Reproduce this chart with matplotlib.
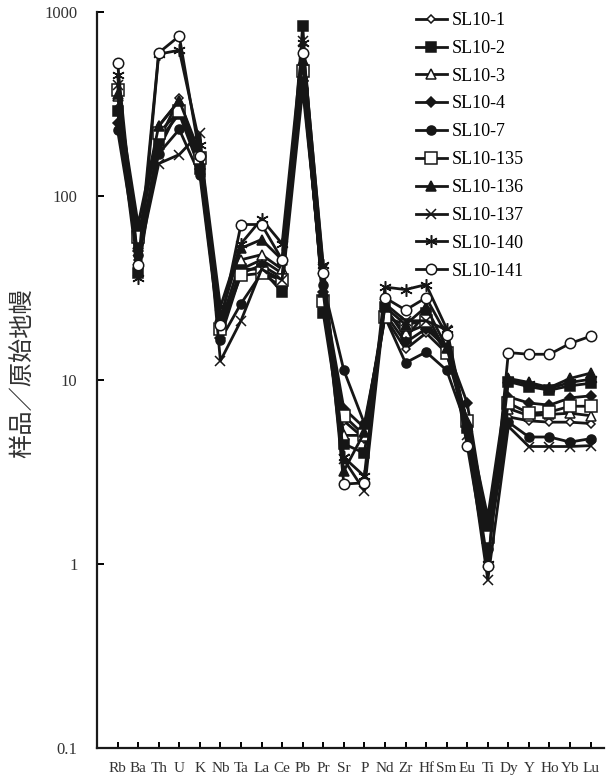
import matplotlib
matplotlib.use("Agg")
import matplotlib.pyplot as plt
import numpy as np

plt.rcParams["font.family"] = ["Liberation Serif", "DejaVu Serif"]

# primitive-mantle normalised spider diagram
elements = ["Rb", "Ba", "Th", "U", "K", "Nb", "Ta", "La", "Ce", "Pb", "Pr", "Sr",
            "P", "Nd", "Zr", "Hf", "Sm", "Eu", "Ti", "Dy", "Y", "Ho", "Yb", "Lu"]

sl10_1 = [300, 45, 200, 340, 150, 18, 40, 45, 38, 500, 27, 6.0, 4.8, 22, 14.7, 18, 14, 6.0, 1.5, 6.3, 6.0, 5.9, 5.9, 5.8]
sl10_2 = [290, 38, 200, 280, 140, 19, 40, 40, 30, 840, 23, 4.5, 4.0, 25, 17, 23, 14, 5.5, 1.6, 9.8, 9.2, 8.8, 9.3, 9.6]
sl10_3 = [350, 55, 240, 330, 160, 20, 45, 48, 40, 450, 28, 5.0, 5.0, 24, 18, 20, 15, 6.0, 1.6, 7.0, 6.4, 6.5, 6.6, 6.4]
sl10_4 = [250, 50, 180, 300, 140, 17, 38, 42, 36, 420, 30, 7.0, 5.5, 23, 16, 19, 15, 7.5, 1.5, 8.1, 7.5, 7.3, 8.0, 8.2]
sl10_7 = [228, 48, 170, 230, 130, 16.5, 26, 38, 32, 380, 33, 11.3, 5.8, 22, 12.4, 14.2, 11.3, 5.5, 1.2, 5.9, 4.9, 4.9, 4.6, 4.8]
sl10_135 = [377, 60, 220, 290, 160, 19, 37, 38, 35, 480, 27, 6.4, 5.0, 22, 20, 21, 14, 6.0, 1.4, 7.5, 6.6, 6.7, 7.2, 7.2]
sl10_136 = [360, 70, 240, 330, 170, 22, 52, 58, 45, 550, 30, 3.2, 5.2, 25, 20, 25, 15, 6.0, 1.8, 10.2, 9.7, 9.1, 10.2, 10.9]
sl10_137 = [400, 45, 150, 168, 220, 12.7, 21, 40, 35, 700, 40, 3.7, 2.5, 26, 21, 21, 18.7, 5.0, 0.82, 5.6, 4.35, 4.35, 4.35, 4.4]
sl10_140 = [455, 36, 590, 620, 190, 25, 55, 75, 55, 680, 42, 3.8, 3.0, 32, 31, 33, 19, 5.5, 1.0, 10.0, 9.5, 9.0, 9.7, 10.1]
sl10_141 = [526, 42, 600, 740, 165, 20, 70, 70, 45, 600, 38, 2.72, 2.76, 28, 24, 28, 17.6, 4.4, 0.97, 14.1, 13.8, 13.8, 15.8, 17.3]

names = ["SL10-1", "SL10-2", "SL10-3", "SL10-4", "SL10-7",
         "SL10-135", "SL10-136", "SL10-137", "SL10-140", "SL10-141"]
series = [sl10_1, sl10_2, sl10_3, sl10_4, sl10_7,
          sl10_135, sl10_136, sl10_137, sl10_140, sl10_141]

# marker, size, filled
styles = [("D", 4.5, False), ("s", 6.5, True), ("^", 6.5, False), ("D", 5, True),
          ("o", 6.5, True), ("s", 8, False), ("^", 7, True), ("x", 7, True),
          ((6, 2, 0), 9, True), ("o", 7.5, False)]

fig = plt.figure(figsize=(6.06, 7.79), dpi=100)
ax = fig.add_axes([97/606, 1 - 748/779, 507/606, 736/779])

x = np.arange(len(elements))
for name, vals, (mk, ms, filled) in zip(names, series, styles):
    ax.plot(x, vals, color="#161616", lw=2.0, marker=mk, ms=ms,
            mfc="#161616" if filled else "white", mec="#161616", mew=1.1,
            label=name)

ax.set_yscale("log")
ax.set_ylim(0.1, 1000)
ax.set_xlim(-1, 23.65)
ax.set_yticks([0.1, 1, 10, 100, 1000])
ax.set_yticklabels(["0.1", "1", "10", "100", "1000"])
ax.minorticks_off()
ax.set_xticks(x)
ax.set_xticklabels(elements)

for s in ["top", "right"]:
    ax.spines[s].set_visible(False)
for s in ["left", "bottom"]:
    ax.spines[s].set_linewidth(1.6)
    ax.spines[s].set_color("#1a1a1a")

ax.tick_params(axis="y", direction="in", length=5, width=1.4, pad=14,
               labelsize=12, labelcolor="#333333")
ax.tick_params(axis="x", direction="in", length=4, width=1.4, pad=10,
               labelsize=11, labelcolor="#333333")

ax.set_ylabel("样品／原始地幔", family=["Noto Sans CJK SC", "DejaVu Sans"],
              fontsize=17.5, color="#333333")
ax.yaxis.set_label_coords(-0.122, 0.51)

fig.legend(loc="upper left", bbox_to_anchor=(416/606, 1 - 12/779),
           frameon=False, borderpad=0, borderaxespad=0,
           handlelength=1.7, handletextpad=0.3, labelspacing=0.6,
           prop={"family": "Liberation Serif", "size": 13})

fig.savefig("out.png", dpi=100)
